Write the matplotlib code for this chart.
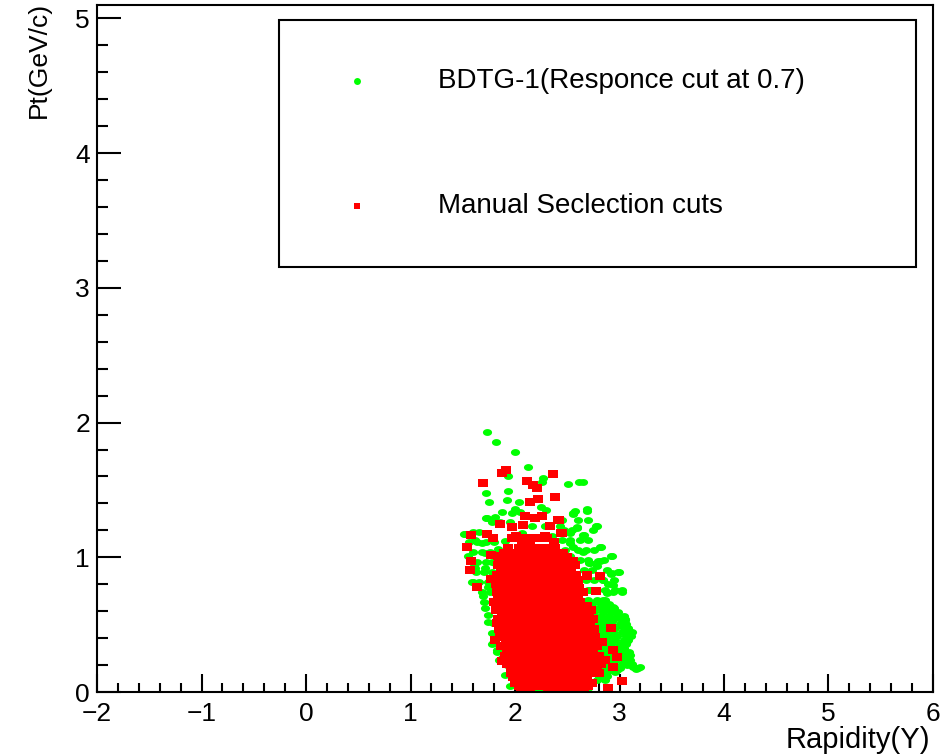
import numpy as np
import matplotlib
matplotlib.use("Agg")
import matplotlib.pyplot as plt
from matplotlib.patches import Rectangle
from matplotlib.ticker import MultipleLocator

plt.rcParams['font.family'] = ['Liberation Sans', 'DejaVu Sans']

# (rapidity, pt) of candidates passing the BDTG response cut
bdtg_points = [
    (1.729, 1.928), (1.818, 1.853), (2.003, 1.784), (2.122, 1.673), (2.654, 1.561),
    (2.612, 1.561), (2.504, 1.541), (1.936, 1.606), (2.261, 1.556), (2.271, 1.589),
    (1.720, 1.477), (1.936, 1.494), (1.748, 1.407), (1.921, 1.422), (2.035, 1.413),
    (1.997, 1.358), (2.246, 1.373), (2.297, 1.353), (2.571, 1.344), (2.689, 1.358),
    (2.552, 1.321), (1.720, 1.288), (1.809, 1.299), (2.775, 1.234), (2.590, 1.225),
    (2.526, 1.182), (2.660, 1.167), (1.512, 1.172), (2.823, 1.073), (2.919, 1.011),
    (1.553, 1.006), (1.611, 0.932), (1.713, 0.917), (2.708, 0.957), (2.813, 0.969),
    (2.992, 0.894), (2.916, 0.877), (1.601, 0.820), (2.890, 0.803), (2.941, 0.746),
    (3.021, 0.746), (1.691, 0.714), (2.842, 0.684), (2.938, 0.634), (3.053, 0.541),
    (3.120, 0.448), (3.021, 0.498), (3.075, 0.381), (3.024, 0.317), (3.078, 0.262),
    (3.196, 0.188), (3.158, 0.169), (3.005, 0.178), (1.780, 0.357), (1.825, 0.312),
    (1.745, 0.572), (1.792, 0.515), (1.818, 0.439), (1.847, 0.238), (1.904, 0.126),
    (1.952, 0.045), (1.729, 1.291), (1.968, 1.328), (1.522, 1.175), (1.617, 1.130),
    (1.681, 1.106), (1.904, 1.118), (1.713, 1.031), (1.840, 1.061), (2.064, 1.180),
    (2.160, 1.229), (1.617, 0.920), (1.809, 0.957), (1.586, 0.820), (1.745, 0.783),
    (1.904, 0.820), (2.287, 1.229), (2.351, 1.155), (2.558, 1.328), (2.686, 1.341),
    (2.431, 1.229), (2.590, 1.217), (2.653, 1.167), (2.782, 1.234), (2.526, 1.106),
    (2.558, 1.080), (2.813, 1.076), (2.925, 1.011), (2.654, 1.043), (2.526, 1.006),
    (2.718, 0.957), (2.797, 0.969), (2.782, 0.932), (2.925, 0.882), (2.989, 0.894),
    (2.845, 0.833), (2.941, 0.796), (3.021, 0.758), (2.711, 0.758), (2.877, 0.734),
    (2.877, 0.634), (3.005, 0.548), (3.053, 0.535), (3.100, 0.436), (3.053, 0.362),
    (2.973, 0.312), (3.100, 0.275), (3.132, 0.188), (3.180, 0.176), (3.069, 0.201),
    (2.973, 0.164), (2.845, 0.387), (2.782, 0.535), (2.718, 0.585), (2.909, 0.461),
    (2.957, 0.238), (2.813, 0.151), (1.713, 0.622), (1.745, 0.523), (1.777, 0.436),
    (1.792, 0.362), (1.825, 0.300), (1.873, 0.250), (1.921, 0.201), (2.032, 0.102),
    (2.080, 0.065), (2.175, 0.028), (2.256, 0.015),
    (2.62, 0.684), (2.70, 0.684), (2.78, 0.684), (2.86, 0.684),
    (2.66, 0.655), (2.74, 0.655), (2.82, 0.655), (2.90, 0.655),
    (2.64, 0.625), (2.72, 0.625), (2.80, 0.625), (2.88, 0.625), (2.95, 0.625),
    (2.68, 0.595), (2.76, 0.595), (2.84, 0.595), (2.92, 0.595), (2.99, 0.595),
    (2.66, 0.565), (2.74, 0.565), (2.82, 0.565), (2.90, 0.565), (2.98, 0.565), (3.04, 0.565),
    (2.70, 0.535), (2.78, 0.535), (2.86, 0.535), (2.94, 0.535), (3.02, 0.535),
    (2.68, 0.506), (2.76, 0.506), (2.84, 0.506), (2.92, 0.506), (3.00, 0.506), (3.06, 0.506),
    (2.72, 0.476), (2.80, 0.476), (2.88, 0.476), (2.96, 0.476), (3.04, 0.476), (3.08, 0.476),
    (2.70, 0.446), (2.78, 0.446), (2.86, 0.446), (2.94, 0.446), (3.02, 0.446), (3.10, 0.446),
    (2.74, 0.417), (2.82, 0.417), (2.90, 0.417), (2.98, 0.417), (3.06, 0.417), (3.11, 0.417),
    (2.72, 0.387), (2.80, 0.387), (2.88, 0.387), (2.96, 0.387), (3.04, 0.387), (3.08, 0.387),
    (2.76, 0.357), (2.84, 0.357), (2.92, 0.357), (3.00, 0.357), (3.06, 0.357),
    (2.74, 0.327), (2.82, 0.327), (2.90, 0.327), (2.98, 0.327), (3.04, 0.327),
    (2.78, 0.298), (2.86, 0.298), (2.94, 0.298), (3.02, 0.298), (3.09, 0.298),
    (2.76, 0.268), (2.84, 0.268), (2.92, 0.268), (3.00, 0.268), (3.08, 0.268),
    (2.80, 0.238), (2.88, 0.238), (2.96, 0.238), (3.04, 0.238), (3.10, 0.238),
    (2.78, 0.208), (2.86, 0.208), (2.94, 0.208), (3.02, 0.208), (3.12, 0.208),
    (2.82, 0.178), (2.90, 0.178), (2.98, 0.178), (3.16, 0.178),
    (2.80, 0.149), (2.88, 0.149), (2.96, 0.149),
    (2.80, 0.119), (2.88, 0.119),
    (2.78, 0.089), (2.86, 0.089),
    (2.10, 0.030), (2.20, 0.030), (2.30, 0.030), (2.40, 0.030), (2.50, 0.030),
    (2.60, 0.030), (2.70, 0.030),
    (2.45, 1.279), (2.60, 1.279), (2.70, 1.279),
    (2.47, 1.204), (2.55, 1.204), (2.75, 1.204),
    (2.45, 1.130), (2.53, 1.130), (2.62, 1.130), (2.70, 1.130),
    (2.48, 1.056), (2.60, 1.056), (2.68, 1.056), (2.76, 1.056),
    (2.62, 0.981), (2.70, 0.981), (2.85, 0.981),
    (2.66, 0.907), (2.74, 0.907), (2.88, 0.907),
    (2.68, 0.833), (2.76, 0.833), (2.84, 0.833), (2.95, 0.833),
    (2.70, 0.758), (2.78, 0.758), (2.86, 0.758), (2.96, 0.758),
    (1.88, 1.338), (2.05, 1.338),
    (1.78, 1.264), (1.86, 1.264), (1.95, 1.264),
    (1.60, 1.190), (1.66, 1.190),
    (1.56, 1.115), (1.64, 1.115), (1.72, 1.115), (1.80, 1.115),
    (1.60, 1.041), (1.68, 1.041), (1.76, 1.041),
    (1.64, 0.967), (1.72, 0.967), (1.78, 0.967),
    (1.63, 0.892), (1.70, 0.892), (1.78, 0.892),
    (1.66, 0.818), (1.74, 0.818),
    (1.68, 0.744), (1.76, 0.744),
    (1.70, 0.669), (1.78, 0.669),
]

# (rapidity, pt) of candidates passing the manual selection
manual_points = [
    (1.914, 1.651), (1.873, 1.626), (1.697, 1.552), (2.112, 1.569), (2.175, 1.539),
    (2.208, 1.512), (2.367, 1.622), (2.380, 1.445), (2.223, 1.433), (2.144, 1.407),
    (2.096, 1.309), (2.194, 1.288), (2.255, 1.303), (1.856, 1.247), (1.968, 1.225),
    (2.079, 1.242), (2.414, 1.274), (2.335, 1.234), (1.579, 1.162), (1.729, 1.175),
    (1.792, 1.143), (2.010, 1.155), (2.447, 1.180), (1.544, 1.080), (1.767, 1.019),
    (1.840, 1.006), (1.576, 0.976), (1.566, 0.902), (2.552, 0.969), (2.686, 0.862),
    (2.813, 0.862), (2.536, 0.882), (1.767, 0.842), (1.633, 0.783), (2.775, 0.753),
    (2.916, 0.474), (2.830, 0.374), (2.941, 0.312), (2.976, 0.262), (2.861, 0.238),
    (2.935, 0.188), (3.021, 0.084), (2.893, 0.028), (1.984, 0.109), (1.873, 0.233),
    (1.825, 0.515), (1.809, 0.387), (2.064, 1.100), (2.144, 1.118), (2.223, 1.067),
    (2.287, 1.155), (2.421, 1.279), (2.440, 1.180), (2.372, 1.115), (2.603, 0.776),
    (2.689, 0.872),
    (1.97, 1.14), (2.06, 1.14), (2.15, 1.14), (2.23, 1.14), (2.31, 1.14),
    (1.93, 1.07), (2.04, 1.07), (2.12, 1.07), (2.21, 1.07), (2.30, 1.07), (2.38, 1.07),
    (1.89, 1.035), (1.97, 1.035), (2.04, 1.035), (2.12, 1.035), (2.21, 1.035),
    (2.29, 1.035), (2.38, 1.035), (2.46, 1.035),
    (1.85, 1.00), (1.93, 1.00), (2.00, 1.00), (2.08, 1.00), (2.17, 1.00), (2.25, 1.00),
    (2.34, 1.00), (2.42, 1.00), (2.50, 1.00),
    (1.84, 0.94), (1.91, 0.94), (1.99, 0.94), (2.07, 0.94), (2.16, 0.94), (2.24, 0.94),
    (2.33, 0.94), (2.41, 0.94), (2.50, 0.94), (2.57, 0.94),
    (1.87, 0.905), (1.95, 0.905), (2.03, 0.905), (2.11, 0.905), (2.20, 0.905),
    (2.28, 0.905), (2.37, 0.905), (2.45, 0.905), (2.54, 0.905),
    (1.83, 0.87), (1.92, 0.87), (2.00, 0.87), (2.09, 0.87), (2.17, 0.87), (2.26, 0.87),
    (2.34, 0.87), (2.43, 0.87), (2.51, 0.87), (2.58, 0.87),
    (1.86, 0.835), (1.94, 0.835), (2.03, 0.835), (2.11, 0.835), (2.19, 0.835),
    (2.28, 0.835), (2.36, 0.835), (2.45, 0.835), (2.53, 0.835), (2.60, 0.835),
    (1.82, 0.80), (1.90, 0.80), (1.99, 0.80), (2.07, 0.80), (2.15, 0.80), (2.24, 0.80),
    (2.32, 0.80), (2.41, 0.80), (2.49, 0.80), (2.57, 0.80),
    (1.86, 0.77), (1.95, 0.77), (2.03, 0.77), (2.12, 0.77), (2.20, 0.77), (2.28, 0.77),
    (2.37, 0.77), (2.45, 0.77), (2.53, 0.77), (2.61, 0.77),
    (1.83, 0.74), (1.91, 0.74), (2.00, 0.74), (2.08, 0.74), (2.17, 0.74), (2.25, 0.74),
    (2.34, 0.74), (2.42, 0.74), (2.51, 0.74), (2.59, 0.74), (2.65, 0.74),
    (1.84, 0.705), (1.92, 0.705), (2.01, 0.705), (2.09, 0.705), (2.18, 0.705),
    (2.26, 0.705), (2.35, 0.705), (2.43, 0.705), (2.52, 0.705), (2.60, 0.705),
    (1.80, 0.67), (1.88, 0.67), (1.97, 0.67), (2.05, 0.67), (2.14, 0.67), (2.22, 0.67),
    (2.31, 0.67), (2.39, 0.67), (2.48, 0.67), (2.56, 0.67), (2.62, 0.67),
    (1.86, 0.64), (1.94, 0.64), (2.03, 0.64), (2.11, 0.64), (2.20, 0.64), (2.28, 0.64),
    (2.37, 0.64), (2.45, 0.64), (2.54, 0.64), (2.62, 0.64), (2.69, 0.64),
    (1.82, 0.61), (1.90, 0.61), (1.99, 0.61), (2.07, 0.61), (2.16, 0.61), (2.24, 0.61),
    (2.33, 0.61), (2.41, 0.61), (2.50, 0.61), (2.58, 0.61), (2.66, 0.61), (2.73, 0.61),
    (1.88, 0.575), (1.96, 0.575), (2.05, 0.575), (2.13, 0.575), (2.22, 0.575),
    (2.30, 0.575), (2.39, 0.575), (2.47, 0.575), (2.56, 0.575), (2.64, 0.575), (2.71, 0.575),
    (1.84, 0.54), (1.92, 0.54), (2.01, 0.54), (2.09, 0.54), (2.18, 0.54), (2.26, 0.54),
    (2.35, 0.54), (2.43, 0.54), (2.52, 0.54), (2.60, 0.54), (2.68, 0.54), (2.75, 0.54),
    (1.89, 0.505), (1.97, 0.505), (2.06, 0.505), (2.14, 0.505), (2.23, 0.505),
    (2.31, 0.505), (2.40, 0.505), (2.48, 0.505), (2.57, 0.505), (2.65, 0.505), (2.72, 0.505),
    (1.85, 0.47), (1.93, 0.47), (2.02, 0.47), (2.10, 0.47), (2.19, 0.47), (2.27, 0.47),
    (2.36, 0.47), (2.44, 0.47), (2.53, 0.47), (2.61, 0.47), (2.69, 0.47), (2.76, 0.47),
    (1.90, 0.44), (1.98, 0.44), (2.07, 0.44), (2.15, 0.44), (2.24, 0.44), (2.32, 0.44),
    (2.41, 0.44), (2.49, 0.44), (2.58, 0.44), (2.66, 0.44), (2.73, 0.44),
    (1.86, 0.41), (1.94, 0.41), (2.03, 0.41), (2.11, 0.41), (2.20, 0.41), (2.28, 0.41),
    (2.37, 0.41), (2.45, 0.41), (2.54, 0.41), (2.62, 0.41), (2.70, 0.41), (2.77, 0.41),
    (1.91, 0.375), (1.99, 0.375), (2.08, 0.375), (2.16, 0.375), (2.25, 0.375),
    (2.33, 0.375), (2.42, 0.375), (2.50, 0.375), (2.59, 0.375), (2.67, 0.375), (2.74, 0.375),
    (1.87, 0.34), (1.95, 0.34), (2.04, 0.34), (2.12, 0.34), (2.21, 0.34), (2.29, 0.34),
    (2.38, 0.34), (2.46, 0.34), (2.55, 0.34), (2.63, 0.34), (2.71, 0.34), (2.78, 0.34),
    (1.92, 0.305), (2.00, 0.305), (2.08, 0.305), (2.17, 0.305), (2.25, 0.305),
    (2.34, 0.305), (2.42, 0.305), (2.51, 0.305), (2.59, 0.305), (2.67, 0.305), (2.75, 0.305),
    (1.90, 0.27), (1.98, 0.27), (2.06, 0.27), (2.14, 0.27), (2.23, 0.27), (2.31, 0.27),
    (2.40, 0.27), (2.48, 0.27), (2.57, 0.27), (2.65, 0.27), (2.73, 0.27), (2.80, 0.27),
    (1.95, 0.24), (2.03, 0.24), (2.12, 0.24), (2.20, 0.24), (2.29, 0.24), (2.37, 0.24),
    (2.46, 0.24), (2.54, 0.24), (2.63, 0.24), (2.71, 0.24), (2.78, 0.24),
    (1.92, 0.21), (2.00, 0.21), (2.08, 0.21), (2.16, 0.21), (2.25, 0.21), (2.33, 0.21),
    (2.42, 0.21), (2.50, 0.21), (2.59, 0.21), (2.67, 0.21), (2.75, 0.21), (2.82, 0.21),
    (1.96, 0.175), (2.04, 0.175), (2.12, 0.175), (2.21, 0.175), (2.29, 0.175),
    (2.38, 0.175), (2.46, 0.175), (2.55, 0.175), (2.63, 0.175), (2.71, 0.175), (2.78, 0.175),
    (1.96, 0.14), (2.04, 0.14), (2.13, 0.14), (2.21, 0.14), (2.30, 0.14), (2.38, 0.14),
    (2.47, 0.14), (2.55, 0.14), (2.64, 0.14), (2.72, 0.14), (2.80, 0.14),
    (2.02, 0.105), (2.10, 0.105), (2.19, 0.105), (2.27, 0.105), (2.36, 0.105),
    (2.44, 0.105), (2.53, 0.105), (2.61, 0.105), (2.69, 0.105),
    (2.00, 0.07), (2.08, 0.07), (2.16, 0.07), (2.24, 0.07), (2.33, 0.07), (2.41, 0.07),
    (2.50, 0.07), (2.58, 0.07), (2.67, 0.07), (2.74, 0.07),
    (2.04, 0.045), (2.12, 0.045), (2.20, 0.045), (2.28, 0.045), (2.37, 0.045),
    (2.45, 0.045), (2.53, 0.045), (2.62, 0.045), (2.70, 0.045),
    (2.06, 0.02), (2.14, 0.02), (2.32, 0.02), (2.40, 0.02), (2.48, 0.02), (2.56, 0.02),
    (2.66, 0.02),
]

bdtg_label = "BDTG-1(Responce cut at 0.7)"
manual_label = "Manual Seclection cuts"

bdtg_x, bdtg_y = zip(*bdtg_points)
manual_x, manual_y = zip(*manual_points)

# slightly flattened markers, like the ROOT canvas output
t = np.linspace(0, 2 * np.pi, 41)
ellipse = np.column_stack([np.cos(t), 0.75 * np.sin(t)])
box = [(-1, -0.8), (1, -0.8), (1, 0.8), (-1, 0.8), (-1, -0.8)]

fig = plt.figure(figsize=(9.53, 7.55), dpi=100)
ax = fig.add_axes([97 / 953, 63 / 755, 836 / 953, 687 / 755])

ax.plot(bdtg_x, bdtg_y, linestyle='none', marker=ellipse, ms=6.6,
        color='#00ff00', mew=0)
ax.plot(manual_x, manual_y, linestyle='none', marker=box, ms=6.8,
        color='#ff0000', mew=0)

ax.set_xlim(-2, 6)
ax.set_ylim(0, 5.1)
ax.xaxis.set_major_locator(MultipleLocator(1))
ax.xaxis.set_minor_locator(MultipleLocator(0.2))
ax.yaxis.set_major_locator(MultipleLocator(1))
ax.yaxis.set_minor_locator(MultipleLocator(0.2))

ax.tick_params(axis='both', which='both', direction='in', top=False, right=False,
               width=1.5, labelsize=19)
ax.tick_params(axis='x', which='major', length=13, pad=7.5)
ax.tick_params(axis='x', which='minor', length=6.5)
ax.tick_params(axis='y', which='major', length=17, pad=5)
ax.tick_params(axis='y', which='minor', length=8)
for sp in ax.spines.values():
    sp.set_linewidth(1.5)

fig.text(930 / 953, 1 - 740 / 755, "Rapidity(Y)", ha='right', va='center', fontsize=21)
fig.text(39 / 953, 1 - 2 / 755, "Pt(GeV/c)", ha='center', va='top',
         rotation=90, fontsize=19)

# legend box drawn by hand
ax.add_patch(Rectangle((0.2177, 0.6186), 0.762, 0.3594, transform=ax.transAxes,
                       fill=False, lw=1.5, ec='black', zorder=5))
ax.plot([0.311], [0.889], transform=ax.transAxes, linestyle='none', marker='o',
        ms=5, color='#00ff00', mew=0, zorder=6)
ax.plot([0.311], [0.7074], transform=ax.transAxes, linestyle='none', marker='s',
        ms=5, color='#ff0000', mew=0, zorder=6)
ax.text(0.408, 0.889, bdtg_label, transform=ax.transAxes, ha='left', va='center',
        fontsize=20)
ax.text(0.408, 0.7074, manual_label, transform=ax.transAxes, ha='left', va='center',
        fontsize=20)

fig.savefig("out.png", dpi=100)
